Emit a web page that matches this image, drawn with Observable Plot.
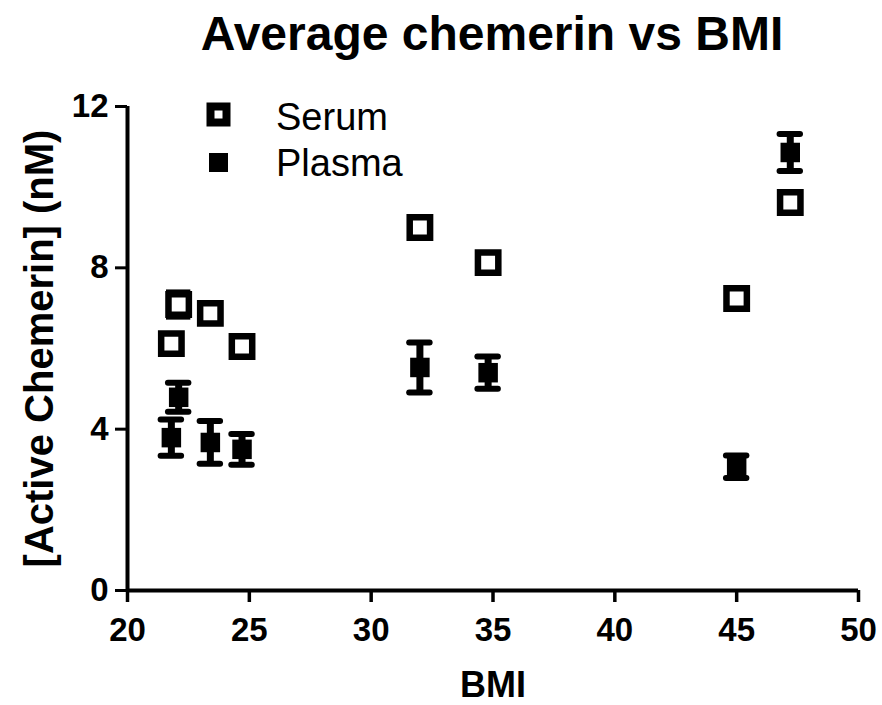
<!DOCTYPE html>
<html><head><meta charset="utf-8">
<script src="https://cdn.jsdelivr.net/npm/d3@7"></script>
<script src="https://cdn.jsdelivr.net/npm/@observablehq/plot@0.6"></script>
<style>
body{margin:0;background:#fff;font-family:"Liberation Sans",Arial,sans-serif;}
#wrap{position:relative;width:882px;height:705px;}
#title{position:absolute;left:0;width:984px;top:4px;line-height:60px;text-align:center;font-weight:bold;font-size:48px;}
#legend{position:absolute;left:0;top:0;}
#chart g[aria-label="x-axis tick label"], #chart g[aria-label="y-axis tick label"]{font-size:33px !important;font-weight:bold;}
#chart g[aria-label="y-axis label"]{font-size:40px !important;font-weight:bold;}
#chart g[aria-label="x-axis label"]{font-size:36px !important;font-weight:bold;}
</style></head><body>
<div id="wrap">
<div id="title">Average chemerin vs BMI</div>
<div id="chart"></div>
<svg id="legend" width="882" height="705" style="font-family:'Liberation Sans',Arial,sans-serif;font-size:38px">
<rect x="210.5" y="106.5" width="16" height="16" fill="#fff" stroke="#000" stroke-width="8"/>
<text x="276" y="130">Serum</text>
<rect x="209" y="153" width="19" height="19" fill="#000"/>
<text x="276" y="176">Plasma</text>
</svg>
</div>
<script>
const bmi = [21.8, 22.1, 23.4, 24.7, 32.0, 34.8, 45.0, 47.2];
const serum = [6.12, 7.09, 6.87, 6.05, 9.0, 8.13, 7.24, 9.62];
const serumErr = [0.05, 0.3, 0.2, 0.05, 0.2, 0.1, 0.05, 0.05];
const plasma = [3.79, 4.79, 3.67, 3.5, 5.53, 5.4, 3.07, 10.86];
const plasmaErr = [0.45, 0.36, 0.53, 0.38, 0.62, 0.4, 0.28, 0.46];
const xTicks = [20, 25, 30, 35, 40, 45, 50];
const yTicks = [0, 4, 8, 12];

const S = bmi.map((x, i) => ({x, y: serum[i], lo: serum[i] - serumErr[i], hi: serum[i] + serumErr[i]}));
const P = bmi.map((x, i) => ({x, y: plasma[i], lo: plasma[i] - plasmaErr[i], hi: plasma[i] + plasmaErr[i]}));

function errMarks(data, cap, round) {
  const lc = round ? "round" : "butt";
  return [
    Plot.ruleX(data, {x: "x", y1: "lo", y2: "hi", stroke: "#000", strokeWidth: 7}),
    Plot.ruleY(data, {y: "hi", x1: d => d.x - cap, x2: d => d.x + cap, stroke: "#000", strokeWidth: 6, strokeLinecap: lc}),
    Plot.ruleY(data, {y: "lo", x1: d => d.x - cap, x2: d => d.x + cap, stroke: "#000", strokeWidth: 6, strokeLinecap: lc})
  ];
}

const chart = Plot.plot({
  width: 882, height: 705,
  marginLeft: 127, marginRight: 24, marginTop: 106, marginBottom: 115,
  style: {fontFamily: "'Liberation Sans', Arial, sans-serif", fontWeight: "bold", color: "#000", background: "#fff"},
  x: {domain: [20, 50], ticks: xTicks},
  y: {domain: [0, 12], ticks: yTicks},
  marks: [
    Plot.axisX({ticks: xTicks, tickSize: 12, strokeWidth: 3.5, tickPadding: 15, label: "BMI", labelAnchor: "center", labelArrow: "none", labelOffset: 106}),
    Plot.axisY({ticks: yTicks, tickSize: 12, strokeWidth: 3, tickPadding: 7, label: "[Active Chemerin] (nM)", labelAnchor: "center", labelArrow: "none", labelOffset: 103}),
    Plot.ruleY([0], {x1: 20, x2: 50, stroke: "#000", strokeWidth: 4}),
    Plot.ruleX([20], {y1: 0, y2: 12, stroke: "#000", strokeWidth: 4}),
    ...errMarks(S, 0.5, false),
    Plot.dot(S, {x: "x", y: "y", symbol: "square", r: 11.5, fill: "#fff", stroke: "#000", strokeWidth: 6.5}),
    ...errMarks(P, 0.42, true),
    Plot.dot(P, {x: "x", y: "y", symbol: "square", r: 11, fill: "#000", stroke: "none"})
  ]
});
document.getElementById("chart").appendChild(chart);
</script>
</body></html>
